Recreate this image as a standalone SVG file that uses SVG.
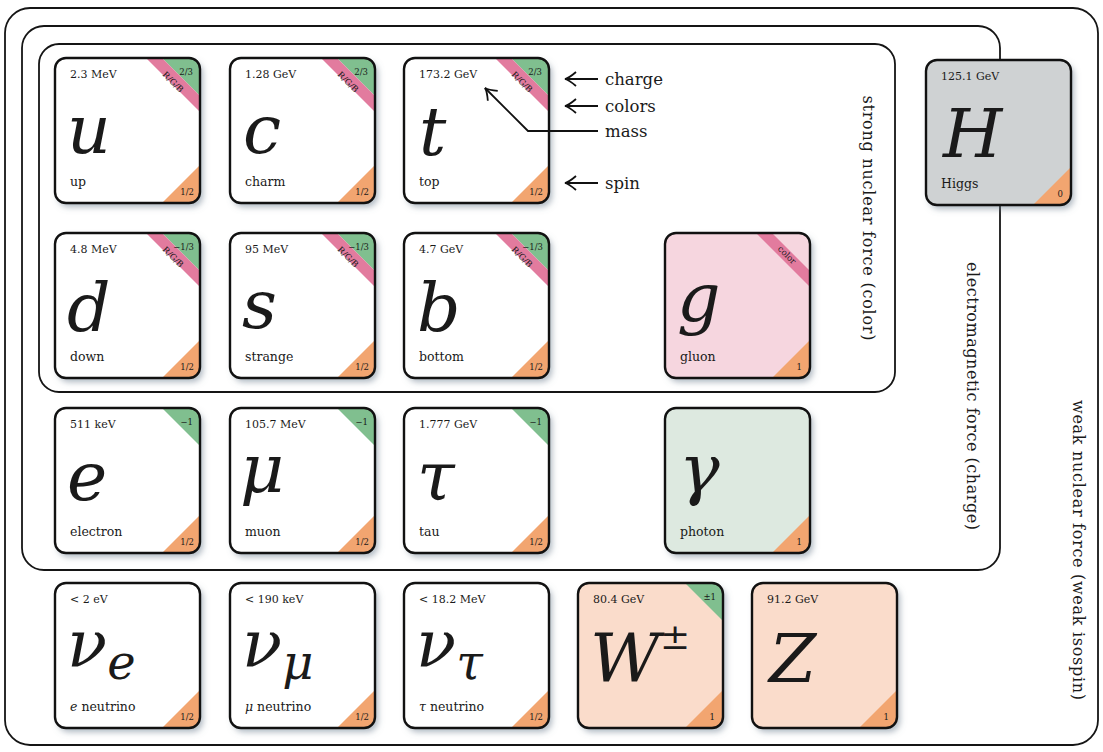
<svg xmlns="http://www.w3.org/2000/svg" width="1103" height="752" viewBox="0 0 1103 752" font-family="'DejaVu Serif', serif">
<style>
.frame{fill:none;stroke:#151515;stroke-width:1.8}
.card{filter:url(#sh)}
.bd{fill:none;stroke:#111;stroke-width:2.4}
.f{fill:#ffffff}.fh{fill:#cfd2d3}.fg{fill:#f6d6df}.fp{fill:#dde9e0}.fw{fill:#fadccb}
.ch{fill:#80bf8f}.co{fill:#e27b9e}.sp{fill:#f2a570}
text{fill:#1a1a1a;font-family:'DejaVu Serif',serif}
.m{font-size:11px}
.nm{font-size:12.5px}
.sm{font-size:8.5px}
.sym{font-size:68px;font-style:italic}
.nu{font-size:66px;font-style:italic}
.up{font-style:normal}
.lbl{font-size:16.5px}
.rot{font-size:16px}
.ar{fill:none;stroke:#111;stroke-width:1.8}
</style>
<defs>
<filter id="sh" x="-10%" y="-10%" width="130%" height="130%">
<feDropShadow dx="3" dy="4" stdDeviation="3" flood-color="#6a7b8c" flood-opacity="0.55"/>
</filter>
<clipPath id="cc"><rect width="145" height="145" rx="11"/></clipPath>
<marker id="ah" viewBox="-13 -9 15 18" markerWidth="15" markerHeight="18" refX="0" refY="0" orient="auto" markerUnits="userSpaceOnUse">
<path d="M-11,-7 Q-4,-1 0,0 Q-4,1 -11,7" fill="none" stroke="#111" stroke-width="1.8"/>
</marker>
</defs>
<rect width="1103" height="752" fill="#ffffff"/>

<g id="frames">
<rect class="frame" x="5" y="8" width="1093" height="737" rx="25"/>
<rect class="frame" x="22" y="26" width="978" height="544" rx="22"/>
<rect class="frame" x="39" y="44" width="856" height="348" rx="20"/>
<text class="rot" transform="translate(868,218) rotate(90)" text-anchor="middle" dy="0.33em" textLength="245" lengthAdjust="spacing">strong nuclear force (color)</text>
<text class="rot" transform="translate(972,396) rotate(90)" text-anchor="middle" dy="0.33em" textLength="268" lengthAdjust="spacing">electromagnetic force (charge)</text>
<text class="rot" transform="translate(1078,550) rotate(90)" text-anchor="middle" dy="0.33em" textLength="300" lengthAdjust="spacing">weak nuclear force (weak isospin)</text>
</g>

<!-- Row 1 -->
<g id="up" transform="translate(55,58)">
<rect class="card f" width="145" height="145" rx="11"/>
<g clip-path="url(#cc)"><polygon class="ch" points="107,0 145,0 145,38"/><polygon class="co" points="91,0 107,0 145,38 145,54"/><polygon class="sp" points="107,145 145,107 145,145"/></g>
<rect class="bd" width="145" height="145" rx="11"/>
<text class="m" x="15" y="20">2.3 MeV</text>
<text class="sym" x="12" y="95">u</text>
<text class="nm" x="15" y="128">up</text>
<text class="sm" x="138" y="17" text-anchor="end">2/3</text>
<text class="sm" transform="translate(116,26) rotate(45)" text-anchor="middle">R/G/B</text>
<text class="sm" x="139" y="137" text-anchor="end">1/2</text>
</g>
<g id="charm" transform="translate(230,58)">
<rect class="card f" width="145" height="145" rx="11"/>
<g clip-path="url(#cc)"><polygon class="ch" points="107,0 145,0 145,38"/><polygon class="co" points="91,0 107,0 145,38 145,54"/><polygon class="sp" points="107,145 145,107 145,145"/></g>
<rect class="bd" width="145" height="145" rx="11"/>
<text class="m" x="15" y="20">1.28 GeV</text>
<text class="sym" x="13" y="95">c</text>
<text class="nm" x="15" y="128">charm</text>
<text class="sm" x="138" y="17" text-anchor="end">2/3</text>
<text class="sm" transform="translate(116,26) rotate(45)" text-anchor="middle">R/G/B</text>
<text class="sm" x="139" y="137" text-anchor="end">1/2</text>
</g>
<g id="top" transform="translate(404,58)">
<rect class="card f" width="145" height="145" rx="11"/>
<g clip-path="url(#cc)"><polygon class="ch" points="107,0 145,0 145,38"/><polygon class="co" points="91,0 107,0 145,38 145,54"/><polygon class="sp" points="107,145 145,107 145,145"/></g>
<rect class="bd" width="145" height="145" rx="11"/>
<text class="m" x="15" y="20">173.2 GeV</text>
<text class="sym" x="15" y="97">t</text>
<text class="nm" x="15" y="128">top</text>
<text class="sm" x="138" y="17" text-anchor="end">2/3</text>
<text class="sm" transform="translate(116,26) rotate(45)" text-anchor="middle">R/G/B</text>
<text class="sm" x="139" y="137" text-anchor="end">1/2</text>
</g>
<g id="higgs" transform="translate(926,60)">
<rect class="card fh" width="145" height="145" rx="11"/>
<g clip-path="url(#cc)"><polygon class="sp" points="107,145 145,107 145,145"/></g>
<rect class="bd" width="145" height="145" rx="11"/>
<text class="m" x="15" y="20">125.1 GeV</text>
<text class="sym" x="17" y="97">H</text>
<text class="nm" x="15" y="128">Higgs</text>
<text class="sm" x="137" y="137" text-anchor="end">0</text>
</g>

<!-- Row 2 -->
<g id="down" transform="translate(55,233)">
<rect class="card f" width="145" height="145" rx="11"/>
<g clip-path="url(#cc)"><polygon class="ch" points="107,0 145,0 145,38"/><polygon class="co" points="91,0 107,0 145,38 145,54"/><polygon class="sp" points="107,145 145,107 145,145"/></g>
<rect class="bd" width="145" height="145" rx="11"/>
<text class="m" x="15" y="20">4.8 MeV</text>
<text class="sym" x="12" y="98">d</text>
<text class="nm" x="15" y="128">down</text>
<text class="sm" x="139" y="17" text-anchor="end">−1/3</text>
<text class="sm" transform="translate(116,26) rotate(45)" text-anchor="middle">R/G/B</text>
<text class="sm" x="139" y="137" text-anchor="end">1/2</text>
</g>
<g id="strange" transform="translate(230,233)">
<rect class="card f" width="145" height="145" rx="11"/>
<g clip-path="url(#cc)"><polygon class="ch" points="107,0 145,0 145,38"/><polygon class="co" points="91,0 107,0 145,38 145,54"/><polygon class="sp" points="107,145 145,107 145,145"/></g>
<rect class="bd" width="145" height="145" rx="11"/>
<text class="m" x="15" y="20">95 MeV</text>
<text class="sym" x="12" y="95">s</text>
<text class="nm" x="15" y="128">strange</text>
<text class="sm" x="139" y="17" text-anchor="end">−1/3</text>
<text class="sm" transform="translate(116,26) rotate(45)" text-anchor="middle">R/G/B</text>
<text class="sm" x="139" y="137" text-anchor="end">1/2</text>
</g>
<g id="bottom" transform="translate(404,233)">
<rect class="card f" width="145" height="145" rx="11"/>
<g clip-path="url(#cc)"><polygon class="ch" points="107,0 145,0 145,38"/><polygon class="co" points="91,0 107,0 145,38 145,54"/><polygon class="sp" points="107,145 145,107 145,145"/></g>
<rect class="bd" width="145" height="145" rx="11"/>
<text class="m" x="15" y="20">4.7 GeV</text>
<text class="sym" x="13" y="98">b</text>
<text class="nm" x="15" y="128">bottom</text>
<text class="sm" x="139" y="17" text-anchor="end">−1/3</text>
<text class="sm" transform="translate(116,26) rotate(45)" text-anchor="middle">R/G/B</text>
<text class="sm" x="139" y="137" text-anchor="end">1/2</text>
</g>
<g id="gluon" transform="translate(665,233)">
<rect class="card fg" width="145" height="145" rx="11"/>
<g clip-path="url(#cc)"><polygon class="co" points="91,0 107,0 145,38 145,54"/><polygon class="sp" points="107,145 145,107 145,145"/></g>
<rect class="bd" width="145" height="145" rx="11"/>
<text class="sym" x="12" y="88">g</text>
<text class="nm" x="15" y="128">gluon</text>
<text class="sm" transform="translate(120,24) rotate(45)" text-anchor="middle">color</text>
<text class="sm" x="137" y="137" text-anchor="end">1</text>
</g>

<!-- Row 3 -->
<g id="electron" transform="translate(55,408)">
<rect class="card f" width="145" height="145" rx="11"/>
<g clip-path="url(#cc)"><polygon class="ch" points="107,0 145,0 145,38"/><polygon class="sp" points="107,145 145,107 145,145"/></g>
<rect class="bd" width="145" height="145" rx="11"/>
<text class="m" x="15" y="20">511 keV</text>
<text class="sym" x="12" y="92">e</text>
<text class="nm" x="15" y="128">electron</text>
<text class="sm" x="138" y="17" text-anchor="end">−1</text>
<text class="sm" x="139" y="137" text-anchor="end">1/2</text>
</g>
<g id="muon" transform="translate(230,408)">
<rect class="card f" width="145" height="145" rx="11"/>
<g clip-path="url(#cc)"><polygon class="ch" points="107,0 145,0 145,38"/><polygon class="sp" points="107,145 145,107 145,145"/></g>
<rect class="bd" width="145" height="145" rx="11"/>
<text class="m" x="15" y="20">105.7 MeV</text>
<text class="sym" x="10" y="84">μ</text>
<text class="nm" x="15" y="128">muon</text>
<text class="sm" x="138" y="17" text-anchor="end">−1</text>
<text class="sm" x="139" y="137" text-anchor="end">1/2</text>
</g>
<g id="tau" transform="translate(404,408)">
<rect class="card f" width="145" height="145" rx="11"/>
<g clip-path="url(#cc)"><polygon class="ch" points="107,0 145,0 145,38"/><polygon class="sp" points="107,145 145,107 145,145"/></g>
<rect class="bd" width="145" height="145" rx="11"/>
<text class="m" x="15" y="20">1.777 GeV</text>
<text class="sym" x="13" y="92">τ</text>
<text class="nm" x="15" y="128">tau</text>
<text class="sm" x="138" y="17" text-anchor="end">−1</text>
<text class="sm" x="139" y="137" text-anchor="end">1/2</text>
</g>
<g id="photon" transform="translate(665,408)">
<rect class="card fp" width="145" height="145" rx="11"/>
<g clip-path="url(#cc)"><polygon class="sp" points="107,145 145,107 145,145"/></g>
<rect class="bd" width="145" height="145" rx="11"/>
<text class="sym" x="14" y="84">γ</text>
<text class="nm" x="15" y="128">photon</text>
<text class="sm" x="137" y="137" text-anchor="end">1</text>
</g>

<!-- Row 4 -->
<g id="nu_e" transform="translate(55,583)">
<rect class="card f" width="145" height="145" rx="11"/>
<g clip-path="url(#cc)"><polygon class="sp" points="107,145 145,107 145,145"/></g>
<rect class="bd" width="145" height="145" rx="11"/>
<text class="m" x="15" y="20">&lt; 2 eV</text>
<text class="nu" x="12" y="84">ν<tspan font-size="48" dy="12">e</tspan></text>
<text class="nm" x="15" y="128"><tspan font-style="italic">e</tspan> neutrino</text>
<text class="sm" x="139" y="137" text-anchor="end">1/2</text>
</g>
<g id="nu_mu" transform="translate(230,583)">
<rect class="card f" width="145" height="145" rx="11"/>
<g clip-path="url(#cc)"><polygon class="sp" points="107,145 145,107 145,145"/></g>
<rect class="bd" width="145" height="145" rx="11"/>
<text class="m" x="15" y="20">&lt; 190 keV</text>
<text class="nu" x="12" y="84">ν<tspan font-size="48" dy="12">μ</tspan></text>
<text class="nm" x="15" y="128"><tspan font-style="italic">μ</tspan> neutrino</text>
<text class="sm" x="139" y="137" text-anchor="end">1/2</text>
</g>
<g id="nu_tau" transform="translate(404,583)">
<rect class="card f" width="145" height="145" rx="11"/>
<g clip-path="url(#cc)"><polygon class="sp" points="107,145 145,107 145,145"/></g>
<rect class="bd" width="145" height="145" rx="11"/>
<text class="m" x="15" y="20">&lt; 18.2 MeV</text>
<text class="nu" x="12" y="84">ν<tspan font-size="48" dy="12">τ</tspan></text>
<text class="nm" x="15" y="128"><tspan font-style="italic">τ</tspan> neutrino</text>
<text class="sm" x="139" y="137" text-anchor="end">1/2</text>
</g>
<g id="W" transform="translate(578,583)">
<rect class="card fw" width="145" height="145" rx="11"/>
<g clip-path="url(#cc)"><polygon class="ch" points="107,0 145,0 145,38"/><polygon class="sp" points="107,145 145,107 145,145"/></g>
<rect class="bd" width="145" height="145" rx="11"/>
<text class="m" x="15" y="20">80.4 GeV</text>
<text class="sym" x="12" y="99">W<tspan class="up" font-size="36" dy="-33">±</tspan></text>
<text class="sm" x="138" y="17" text-anchor="end">±1</text>
<text class="sm" x="137" y="137" text-anchor="end">1</text>
</g>
<g id="Z" transform="translate(752,583)">
<rect class="card fw" width="145" height="145" rx="11"/>
<g clip-path="url(#cc)"><polygon class="sp" points="107,145 145,107 145,145"/></g>
<rect class="bd" width="145" height="145" rx="11"/>
<text class="m" x="15" y="20">91.2 GeV</text>
<text class="sym" x="17" y="99">Z</text>
<text class="sm" x="137" y="137" text-anchor="end">1</text>
</g>

<g id="connectors">
<path class="ar" d="M598,79 H565" marker-end="url(#ah)"/>
<path class="ar" d="M598,106 H565" marker-end="url(#ah)"/>
<path class="ar" d="M598,131 H528 L485,88" marker-end="url(#ah)"/>
<path class="ar" d="M598,183 H565" marker-end="url(#ah)"/>
</g>
<g id="legend">
<text class="lbl" x="605" y="85">charge</text>
<text class="lbl" x="605" y="112">colors</text>
<text class="lbl" x="605" y="137">mass</text>
<text class="lbl" x="605" y="189">spin</text>
</g>
</svg>
